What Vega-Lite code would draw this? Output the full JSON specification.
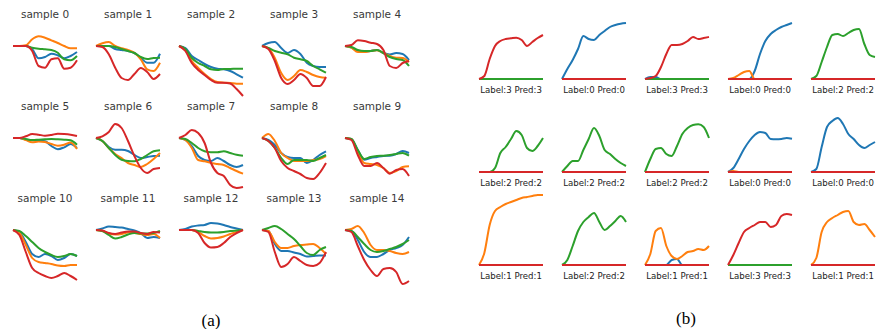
{
"$schema": "https://vega.github.io/schema/vega-lite/v6.json",
"padding": {"left": 9, "top": 9, "right": 0, "bottom": 0},
"background": "white",
"config": {"view": {"stroke": null}, "line": {"strokeWidth": 2, "interpolate": "monotone"}},
"datasets": {
"a": [
{"i":0,"k":0,"x":0,"y":0},{"i":0,"k":0,"x":1,"y":0},{"i":0,"k":0,"x":2,"y":0},{"i":0,"k":0,"x":3,"y":-3.3},{"i":0,"k":0,"x":4,"y":-12.3},{"i":0,"k":0,"x":5,"y":-11},{"i":0,"k":0,"x":6,"y":-7.7},{"i":0,"k":0,"x":7,"y":-9.3},{"i":0,"k":0,"x":8,"y":-12.3},{"i":0,"k":0,"x":9,"y":-10},{"i":0,"k":0,"x":10,"y":-6},
{"i":0,"k":1,"x":0,"y":0},{"i":0,"k":1,"x":1,"y":0},{"i":0,"k":1,"x":2,"y":0.7},{"i":0,"k":1,"x":3,"y":6.7},{"i":0,"k":1,"x":4,"y":9.7},{"i":0,"k":1,"x":5,"y":8.3},{"i":0,"k":1,"x":6,"y":5.7},{"i":0,"k":1,"x":7,"y":3},{"i":0,"k":1,"x":8,"y":0},{"i":0,"k":1,"x":9,"y":-2.3},{"i":0,"k":1,"x":10,"y":-2.3},
{"i":0,"k":2,"x":0,"y":0},{"i":0,"k":2,"x":1,"y":0},{"i":0,"k":2,"x":2,"y":0},{"i":0,"k":2,"x":3,"y":-1.7},{"i":0,"k":2,"x":4,"y":-2.7},{"i":0,"k":2,"x":5,"y":-3.3},{"i":0,"k":2,"x":6,"y":-4},{"i":0,"k":2,"x":7,"y":-6.7},{"i":0,"k":2,"x":8,"y":-13.3},{"i":0,"k":2,"x":9,"y":-14.3},{"i":0,"k":2,"x":10,"y":-10},
{"i":0,"k":3,"x":0,"y":0},{"i":0,"k":3,"x":1,"y":0},{"i":0,"k":3,"x":2,"y":0},{"i":0,"k":3,"x":3,"y":-5},{"i":0,"k":3,"x":4,"y":-20},{"i":0,"k":3,"x":5,"y":-21.7},{"i":0,"k":3,"x":6,"y":-13.3},{"i":0,"k":3,"x":7,"y":-12.3},{"i":0,"k":3,"x":8,"y":-22.7},{"i":0,"k":3,"x":9,"y":-21.7},{"i":0,"k":3,"x":10,"y":-14.3},

{"i":1,"k":0,"x":0,"y":0},{"i":1,"k":0,"x":1,"y":0},{"i":1,"k":0,"x":2,"y":0},{"i":1,"k":0,"x":3,"y":-3},{"i":1,"k":0,"x":4,"y":-4},{"i":1,"k":0,"x":5,"y":-5},{"i":1,"k":0,"x":6,"y":-7},{"i":1,"k":0,"x":7,"y":-12},{"i":1,"k":0,"x":8,"y":-16.7},{"i":1,"k":0,"x":9,"y":-16.7},{"i":1,"k":0,"x":10,"y":-7.7},
{"i":1,"k":1,"x":0,"y":0},{"i":1,"k":1,"x":1,"y":2.7},{"i":1,"k":1,"x":2,"y":4},{"i":1,"k":1,"x":3,"y":0},{"i":1,"k":1,"x":4,"y":-2.3},{"i":1,"k":1,"x":5,"y":-4},{"i":1,"k":1,"x":6,"y":-6.7},{"i":1,"k":1,"x":7,"y":-13.3},{"i":1,"k":1,"x":8,"y":-23.3},{"i":1,"k":1,"x":9,"y":-25},{"i":1,"k":1,"x":10,"y":-16.7},
{"i":1,"k":2,"x":0,"y":0},{"i":1,"k":2,"x":1,"y":0},{"i":1,"k":2,"x":2,"y":0},{"i":1,"k":2,"x":3,"y":-1},{"i":1,"k":2,"x":4,"y":-3},{"i":1,"k":2,"x":5,"y":-5},{"i":1,"k":2,"x":6,"y":-7},{"i":1,"k":2,"x":7,"y":-11},{"i":1,"k":2,"x":8,"y":-13},{"i":1,"k":2,"x":9,"y":-12},{"i":1,"k":2,"x":10,"y":-11.7},
{"i":1,"k":3,"x":0,"y":0},{"i":1,"k":3,"x":1,"y":-1},{"i":1,"k":3,"x":2,"y":-8.3},{"i":1,"k":3,"x":3,"y":-21.7},{"i":1,"k":3,"x":4,"y":-32},{"i":1,"k":3,"x":5,"y":-34},{"i":1,"k":3,"x":6,"y":-28},{"i":1,"k":3,"x":7,"y":-22},{"i":1,"k":3,"x":8,"y":-26},{"i":1,"k":3,"x":9,"y":-33},{"i":1,"k":3,"x":10,"y":-28},

{"i":2,"k":0,"x":0,"y":0},{"i":2,"k":0,"x":1,"y":-2},{"i":2,"k":0,"x":2,"y":-10},{"i":2,"k":0,"x":3,"y":-14},{"i":2,"k":0,"x":4,"y":-18},{"i":2,"k":0,"x":5,"y":-21},{"i":2,"k":0,"x":6,"y":-22.7},{"i":2,"k":0,"x":7,"y":-23.3},{"i":2,"k":0,"x":8,"y":-25},{"i":2,"k":0,"x":9,"y":-28.3},{"i":2,"k":0,"x":10,"y":-31.7},
{"i":2,"k":1,"x":0,"y":0},{"i":2,"k":1,"x":1,"y":-4},{"i":2,"k":1,"x":2,"y":-15},{"i":2,"k":1,"x":3,"y":-22},{"i":2,"k":1,"x":4,"y":-28},{"i":2,"k":1,"x":5,"y":-33},{"i":2,"k":1,"x":6,"y":-36},{"i":2,"k":1,"x":7,"y":-36.7},{"i":2,"k":1,"x":8,"y":-37},{"i":2,"k":1,"x":9,"y":-37.7},{"i":2,"k":1,"x":10,"y":-37.7},
{"i":2,"k":2,"x":0,"y":0},{"i":2,"k":2,"x":1,"y":-3},{"i":2,"k":2,"x":2,"y":-12},{"i":2,"k":2,"x":3,"y":-17},{"i":2,"k":2,"x":4,"y":-20},{"i":2,"k":2,"x":5,"y":-23.3},{"i":2,"k":2,"x":6,"y":-24},{"i":2,"k":2,"x":7,"y":-23},{"i":2,"k":2,"x":8,"y":-23},{"i":2,"k":2,"x":9,"y":-22.7},{"i":2,"k":2,"x":10,"y":-22.7},
{"i":2,"k":3,"x":0,"y":0},{"i":2,"k":3,"x":1,"y":-5},{"i":2,"k":3,"x":2,"y":-17},{"i":2,"k":3,"x":3,"y":-24},{"i":2,"k":3,"x":4,"y":-29},{"i":2,"k":3,"x":5,"y":-34},{"i":2,"k":3,"x":6,"y":-36.7},{"i":2,"k":3,"x":7,"y":-36.7},{"i":2,"k":3,"x":8,"y":-37.5},{"i":2,"k":3,"x":9,"y":-43},{"i":2,"k":3,"x":10,"y":-50},

{"i":3,"k":0,"x":0,"y":0},{"i":3,"k":0,"x":1,"y":3},{"i":3,"k":0,"x":2,"y":4},{"i":3,"k":0,"x":3,"y":-2},{"i":3,"k":0,"x":4,"y":-7},{"i":3,"k":0,"x":5,"y":-4},{"i":3,"k":0,"x":6,"y":-8},{"i":3,"k":0,"x":7,"y":-16.7},{"i":3,"k":0,"x":8,"y":-20},{"i":3,"k":0,"x":9,"y":-21},{"i":3,"k":0,"x":10,"y":-21},
{"i":3,"k":1,"x":0,"y":0},{"i":3,"k":1,"x":1,"y":-2},{"i":3,"k":1,"x":2,"y":-12},{"i":3,"k":1,"x":3,"y":-27},{"i":3,"k":1,"x":4,"y":-34},{"i":3,"k":1,"x":5,"y":-30},{"i":3,"k":1,"x":6,"y":-24},{"i":3,"k":1,"x":7,"y":-26},{"i":3,"k":1,"x":8,"y":-29},{"i":3,"k":1,"x":9,"y":-31},{"i":3,"k":1,"x":10,"y":-31.7},
{"i":3,"k":2,"x":0,"y":0},{"i":3,"k":2,"x":1,"y":-2},{"i":3,"k":2,"x":2,"y":-5},{"i":3,"k":2,"x":3,"y":-6.7},{"i":3,"k":2,"x":4,"y":-8.3},{"i":3,"k":2,"x":5,"y":-11.7},{"i":3,"k":2,"x":6,"y":-13.3},{"i":3,"k":2,"x":7,"y":-15},{"i":3,"k":2,"x":8,"y":-20},{"i":3,"k":2,"x":9,"y":-23.3},{"i":3,"k":2,"x":10,"y":-26.7},
{"i":3,"k":3,"x":0,"y":0},{"i":3,"k":3,"x":1,"y":-3},{"i":3,"k":3,"x":2,"y":-15},{"i":3,"k":3,"x":3,"y":-32},{"i":3,"k":3,"x":4,"y":-38},{"i":3,"k":3,"x":5,"y":-34},{"i":3,"k":3,"x":6,"y":-28},{"i":3,"k":3,"x":7,"y":-32},{"i":3,"k":3,"x":8,"y":-40},{"i":3,"k":3,"x":9,"y":-40},{"i":3,"k":3,"x":10,"y":-31},

{"i":4,"k":0,"x":0,"y":0},{"i":4,"k":0,"x":1,"y":-1.5},{"i":4,"k":0,"x":2,"y":-5},{"i":4,"k":0,"x":3,"y":-5.7},{"i":4,"k":0,"x":4,"y":-5},{"i":4,"k":0,"x":5,"y":-4},{"i":4,"k":0,"x":6,"y":-7},{"i":4,"k":0,"x":7,"y":-8.5},{"i":4,"k":0,"x":8,"y":-7},{"i":4,"k":0,"x":9,"y":-8},{"i":4,"k":0,"x":10,"y":-14},
{"i":4,"k":1,"x":0,"y":0},{"i":4,"k":1,"x":1,"y":-1.7},{"i":4,"k":1,"x":2,"y":-6},{"i":4,"k":1,"x":3,"y":-6},{"i":4,"k":1,"x":4,"y":-5},{"i":4,"k":1,"x":5,"y":-4.3},{"i":4,"k":1,"x":6,"y":-7},{"i":4,"k":1,"x":7,"y":-10},{"i":4,"k":1,"x":8,"y":-11.7},{"i":4,"k":1,"x":9,"y":-12},{"i":4,"k":1,"x":10,"y":-16},
{"i":4,"k":2,"x":0,"y":0},{"i":4,"k":2,"x":1,"y":-1},{"i":4,"k":2,"x":2,"y":-4},{"i":4,"k":2,"x":3,"y":-5},{"i":4,"k":2,"x":4,"y":-5},{"i":4,"k":2,"x":5,"y":-4},{"i":4,"k":2,"x":6,"y":-7},{"i":4,"k":2,"x":7,"y":-11},{"i":4,"k":2,"x":8,"y":-13},{"i":4,"k":2,"x":9,"y":-14},{"i":4,"k":2,"x":10,"y":-20},
{"i":4,"k":3,"x":0,"y":0},{"i":4,"k":3,"x":1,"y":1},{"i":4,"k":3,"x":2,"y":5.7},{"i":4,"k":3,"x":3,"y":5},{"i":4,"k":3,"x":4,"y":3.3},{"i":4,"k":3,"x":5,"y":2},{"i":4,"k":3,"x":6,"y":-4},{"i":4,"k":3,"x":7,"y":-20},{"i":4,"k":3,"x":8,"y":-22},{"i":4,"k":3,"x":9,"y":-17},{"i":4,"k":3,"x":10,"y":-15},

{"i":5,"k":0,"x":0,"y":0},{"i":5,"k":0,"x":1,"y":0},{"i":5,"k":0,"x":2,"y":-1.5},{"i":5,"k":0,"x":3,"y":-2.3},{"i":5,"k":0,"x":4,"y":-2.7},{"i":5,"k":0,"x":5,"y":-3.3},{"i":5,"k":0,"x":6,"y":-8},{"i":5,"k":0,"x":7,"y":-11.3},{"i":5,"k":0,"x":8,"y":-9.3},{"i":5,"k":0,"x":9,"y":-6},{"i":5,"k":0,"x":10,"y":-10},
{"i":5,"k":1,"x":0,"y":0},{"i":5,"k":1,"x":1,"y":0},{"i":5,"k":1,"x":2,"y":-2},{"i":5,"k":1,"x":3,"y":-4.3},{"i":5,"k":1,"x":4,"y":-3.5},{"i":5,"k":1,"x":5,"y":-4},{"i":5,"k":1,"x":6,"y":-6},{"i":5,"k":1,"x":7,"y":-7.7},{"i":5,"k":1,"x":8,"y":-6.7},{"i":5,"k":1,"x":9,"y":-4.5},{"i":5,"k":1,"x":10,"y":-11},
{"i":5,"k":2,"x":0,"y":0},{"i":5,"k":2,"x":1,"y":0},{"i":5,"k":2,"x":2,"y":-1},{"i":5,"k":2,"x":3,"y":-2},{"i":5,"k":2,"x":4,"y":-1.7},{"i":5,"k":2,"x":5,"y":-1.3},{"i":5,"k":2,"x":6,"y":-1},{"i":5,"k":2,"x":7,"y":-1.3},{"i":5,"k":2,"x":8,"y":-1.7},{"i":5,"k":2,"x":9,"y":-2.3},{"i":5,"k":2,"x":10,"y":-6.7},
{"i":5,"k":3,"x":0,"y":0},{"i":5,"k":3,"x":1,"y":0},{"i":5,"k":3,"x":2,"y":1.7},{"i":5,"k":3,"x":3,"y":4},{"i":5,"k":3,"x":4,"y":3.3},{"i":5,"k":3,"x":5,"y":2.3},{"i":5,"k":3,"x":6,"y":3},{"i":5,"k":3,"x":7,"y":4.3},{"i":5,"k":3,"x":8,"y":4},{"i":5,"k":3,"x":9,"y":3.3},{"i":5,"k":3,"x":10,"y":2},

{"i":6,"k":0,"x":0,"y":0},{"i":6,"k":0,"x":1,"y":-3},{"i":6,"k":0,"x":2,"y":-9},{"i":6,"k":0,"x":3,"y":-11.7},{"i":6,"k":0,"x":4,"y":-11.7},{"i":6,"k":0,"x":5,"y":-13},{"i":6,"k":0,"x":6,"y":-17},{"i":6,"k":0,"x":7,"y":-20},{"i":6,"k":0,"x":8,"y":-19},{"i":6,"k":0,"x":9,"y":-18},{"i":6,"k":0,"x":10,"y":-17.7},
{"i":6,"k":1,"x":0,"y":0},{"i":6,"k":1,"x":1,"y":-3},{"i":6,"k":1,"x":2,"y":-10},{"i":6,"k":1,"x":3,"y":-16},{"i":6,"k":1,"x":4,"y":-20},{"i":6,"k":1,"x":5,"y":-25},{"i":6,"k":1,"x":6,"y":-27},{"i":6,"k":1,"x":7,"y":-29},{"i":6,"k":1,"x":8,"y":-26},{"i":6,"k":1,"x":9,"y":-21},{"i":6,"k":1,"x":10,"y":-15},
{"i":6,"k":2,"x":0,"y":0},{"i":6,"k":2,"x":1,"y":-3},{"i":6,"k":2,"x":2,"y":-10},{"i":6,"k":2,"x":3,"y":-17},{"i":6,"k":2,"x":4,"y":-21.7},{"i":6,"k":2,"x":5,"y":-23},{"i":6,"k":2,"x":6,"y":-23.3},{"i":6,"k":2,"x":7,"y":-21},{"i":6,"k":2,"x":8,"y":-17},{"i":6,"k":2,"x":9,"y":-13.3},{"i":6,"k":2,"x":10,"y":-12.3},
{"i":6,"k":3,"x":0,"y":0},{"i":6,"k":3,"x":1,"y":1.7},{"i":6,"k":3,"x":2,"y":6},{"i":6,"k":3,"x":3,"y":14},{"i":6,"k":3,"x":4,"y":10},{"i":6,"k":3,"x":5,"y":-3},{"i":6,"k":3,"x":6,"y":-18},{"i":6,"k":3,"x":7,"y":-30},{"i":6,"k":3,"x":8,"y":-35},{"i":6,"k":3,"x":9,"y":-31},{"i":6,"k":3,"x":10,"y":-30},

{"i":7,"k":0,"x":0,"y":0},{"i":7,"k":0,"x":1,"y":-2},{"i":7,"k":0,"x":2,"y":-8},{"i":7,"k":0,"x":3,"y":-18},{"i":7,"k":0,"x":4,"y":-22},{"i":7,"k":0,"x":5,"y":-23},{"i":7,"k":0,"x":6,"y":-20},{"i":7,"k":0,"x":7,"y":-23},{"i":7,"k":0,"x":8,"y":-27},{"i":7,"k":0,"x":9,"y":-29},{"i":7,"k":0,"x":10,"y":-27},
{"i":7,"k":1,"x":0,"y":0},{"i":7,"k":1,"x":1,"y":-2},{"i":7,"k":1,"x":2,"y":-10},{"i":7,"k":1,"x":3,"y":-22},{"i":7,"k":1,"x":4,"y":-23.3},{"i":7,"k":1,"x":5,"y":-25},{"i":7,"k":1,"x":6,"y":-26},{"i":7,"k":1,"x":7,"y":-27},{"i":7,"k":1,"x":8,"y":-30},{"i":7,"k":1,"x":9,"y":-33},{"i":7,"k":1,"x":10,"y":-35.7},
{"i":7,"k":2,"x":0,"y":0},{"i":7,"k":2,"x":1,"y":-1},{"i":7,"k":2,"x":2,"y":-5},{"i":7,"k":2,"x":3,"y":-10},{"i":7,"k":2,"x":4,"y":-13.3},{"i":7,"k":2,"x":5,"y":-14.3},{"i":7,"k":2,"x":6,"y":-14.3},{"i":7,"k":2,"x":7,"y":-13.3},{"i":7,"k":2,"x":8,"y":-15},{"i":7,"k":2,"x":9,"y":-16.7},{"i":7,"k":2,"x":10,"y":-17.7},
{"i":7,"k":3,"x":0,"y":0},{"i":7,"k":3,"x":1,"y":3},{"i":7,"k":3,"x":2,"y":8},{"i":7,"k":3,"x":3,"y":5},{"i":7,"k":3,"x":4,"y":-5},{"i":7,"k":3,"x":5,"y":-25},{"i":7,"k":3,"x":6,"y":-35},{"i":7,"k":3,"x":7,"y":-38},{"i":7,"k":3,"x":8,"y":-47},{"i":7,"k":3,"x":9,"y":-50},{"i":7,"k":3,"x":10,"y":-49},

{"i":8,"k":0,"x":0,"y":0},{"i":8,"k":0,"x":1,"y":-2},{"i":8,"k":0,"x":2,"y":-7},{"i":8,"k":0,"x":3,"y":-15},{"i":8,"k":0,"x":4,"y":-19},{"i":8,"k":0,"x":5,"y":-20},{"i":8,"k":0,"x":6,"y":-20},{"i":8,"k":0,"x":7,"y":-25},{"i":8,"k":0,"x":8,"y":-22},{"i":8,"k":0,"x":9,"y":-17},{"i":8,"k":0,"x":10,"y":-13.3},
{"i":8,"k":1,"x":0,"y":0},{"i":8,"k":1,"x":1,"y":4},{"i":8,"k":1,"x":2,"y":-3},{"i":8,"k":1,"x":3,"y":-15},{"i":8,"k":1,"x":4,"y":-20},{"i":8,"k":1,"x":5,"y":-23},{"i":8,"k":1,"x":6,"y":-23},{"i":8,"k":1,"x":7,"y":-23},{"i":8,"k":1,"x":8,"y":-22},{"i":8,"k":1,"x":9,"y":-21},{"i":8,"k":1,"x":10,"y":-18},
{"i":8,"k":2,"x":0,"y":0},{"i":8,"k":2,"x":1,"y":-3},{"i":8,"k":2,"x":2,"y":-10},{"i":8,"k":2,"x":3,"y":-20},{"i":8,"k":2,"x":4,"y":-26},{"i":8,"k":2,"x":5,"y":-22},{"i":8,"k":2,"x":6,"y":-22},{"i":8,"k":2,"x":7,"y":-22},{"i":8,"k":2,"x":8,"y":-23},{"i":8,"k":2,"x":9,"y":-20},{"i":8,"k":2,"x":10,"y":-17},
{"i":8,"k":3,"x":0,"y":0},{"i":8,"k":3,"x":1,"y":-3},{"i":8,"k":3,"x":2,"y":-10},{"i":8,"k":3,"x":3,"y":-23},{"i":8,"k":3,"x":4,"y":-30},{"i":8,"k":3,"x":5,"y":-33},{"i":8,"k":3,"x":6,"y":-36},{"i":8,"k":3,"x":7,"y":-40},{"i":8,"k":3,"x":8,"y":-41},{"i":8,"k":3,"x":9,"y":-35},{"i":8,"k":3,"x":10,"y":-25},

{"i":9,"k":0,"x":0,"y":0},{"i":9,"k":0,"x":1,"y":-1},{"i":9,"k":0,"x":2,"y":-12},{"i":9,"k":0,"x":3,"y":-21.7},{"i":9,"k":0,"x":4,"y":-20},{"i":9,"k":0,"x":5,"y":-19},{"i":9,"k":0,"x":6,"y":-18},{"i":9,"k":0,"x":7,"y":-17.7},{"i":9,"k":0,"x":8,"y":-16},{"i":9,"k":0,"x":9,"y":-13},{"i":9,"k":0,"x":10,"y":-15},
{"i":9,"k":1,"x":0,"y":0},{"i":9,"k":1,"x":1,"y":-1},{"i":9,"k":1,"x":2,"y":-14},{"i":9,"k":1,"x":3,"y":-25},{"i":9,"k":1,"x":4,"y":-26},{"i":9,"k":1,"x":5,"y":-27},{"i":9,"k":1,"x":6,"y":-30},{"i":9,"k":1,"x":7,"y":-35},{"i":9,"k":1,"x":8,"y":-33},{"i":9,"k":1,"x":9,"y":-29},{"i":9,"k":1,"x":10,"y":-28.3},
{"i":9,"k":2,"x":0,"y":0},{"i":9,"k":2,"x":1,"y":-1},{"i":9,"k":2,"x":2,"y":-12},{"i":9,"k":2,"x":3,"y":-21},{"i":9,"k":2,"x":4,"y":-19},{"i":9,"k":2,"x":5,"y":-18},{"i":9,"k":2,"x":6,"y":-17.7},{"i":9,"k":2,"x":7,"y":-17},{"i":9,"k":2,"x":8,"y":-16},{"i":9,"k":2,"x":9,"y":-15},{"i":9,"k":2,"x":10,"y":-17.7},
{"i":9,"k":3,"x":0,"y":0},{"i":9,"k":3,"x":1,"y":-2},{"i":9,"k":3,"x":2,"y":-17},{"i":9,"k":3,"x":3,"y":-28},{"i":9,"k":3,"x":4,"y":-28},{"i":9,"k":3,"x":5,"y":-25},{"i":9,"k":3,"x":6,"y":-30},{"i":9,"k":3,"x":7,"y":-35.7},{"i":9,"k":3,"x":8,"y":-32},{"i":9,"k":3,"x":9,"y":-31},{"i":9,"k":3,"x":10,"y":-38},

{"i":10,"k":0,"x":0,"y":0},{"i":10,"k":0,"x":1,"y":-2},{"i":10,"k":0,"x":2,"y":-12},{"i":10,"k":0,"x":3,"y":-24},{"i":10,"k":0,"x":4,"y":-27},{"i":10,"k":0,"x":5,"y":-24},{"i":10,"k":0,"x":6,"y":-26},{"i":10,"k":0,"x":7,"y":-30},{"i":10,"k":0,"x":8,"y":-28},{"i":10,"k":0,"x":9,"y":-24},{"i":10,"k":0,"x":10,"y":-26},
{"i":10,"k":1,"x":0,"y":0},{"i":10,"k":1,"x":1,"y":-3},{"i":10,"k":1,"x":2,"y":-15},{"i":10,"k":1,"x":3,"y":-28},{"i":10,"k":1,"x":4,"y":-32},{"i":10,"k":1,"x":5,"y":-33},{"i":10,"k":1,"x":6,"y":-34},{"i":10,"k":1,"x":7,"y":-35.5},{"i":10,"k":1,"x":8,"y":-36},{"i":10,"k":1,"x":9,"y":-35},{"i":10,"k":1,"x":10,"y":-35},
{"i":10,"k":2,"x":0,"y":0},{"i":10,"k":2,"x":1,"y":-1},{"i":10,"k":2,"x":2,"y":-6},{"i":10,"k":2,"x":3,"y":-12},{"i":10,"k":2,"x":4,"y":-18},{"i":10,"k":2,"x":5,"y":-22},{"i":10,"k":2,"x":6,"y":-25},{"i":10,"k":2,"x":7,"y":-27},{"i":10,"k":2,"x":8,"y":-26},{"i":10,"k":2,"x":9,"y":-24},{"i":10,"k":2,"x":10,"y":-26},
{"i":10,"k":3,"x":0,"y":0},{"i":10,"k":3,"x":1,"y":-5},{"i":10,"k":3,"x":2,"y":-22},{"i":10,"k":3,"x":3,"y":-38},{"i":10,"k":3,"x":4,"y":-43},{"i":10,"k":3,"x":5,"y":-46},{"i":10,"k":3,"x":6,"y":-48},{"i":10,"k":3,"x":7,"y":-46},{"i":10,"k":3,"x":8,"y":-43},{"i":10,"k":3,"x":9,"y":-46},{"i":10,"k":3,"x":10,"y":-50},

{"i":11,"k":0,"x":0,"y":0},{"i":11,"k":0,"x":1,"y":1.5},{"i":11,"k":0,"x":2,"y":3.5},{"i":11,"k":0,"x":3,"y":3},{"i":11,"k":0,"x":4,"y":2.5},{"i":11,"k":0,"x":5,"y":1},{"i":11,"k":0,"x":6,"y":-0.5},{"i":11,"k":0,"x":7,"y":-3},{"i":11,"k":0,"x":8,"y":-8},{"i":11,"k":0,"x":9,"y":-7},{"i":11,"k":0,"x":10,"y":-8},
{"i":11,"k":1,"x":0,"y":0},{"i":11,"k":1,"x":1,"y":-1},{"i":11,"k":1,"x":2,"y":-3.5},{"i":11,"k":1,"x":3,"y":-4.5},{"i":11,"k":1,"x":4,"y":-4},{"i":11,"k":1,"x":5,"y":-2.5},{"i":11,"k":1,"x":6,"y":-3},{"i":11,"k":1,"x":7,"y":-4},{"i":11,"k":1,"x":8,"y":-5},{"i":11,"k":1,"x":9,"y":-4},{"i":11,"k":1,"x":10,"y":-8},
{"i":11,"k":2,"x":0,"y":0},{"i":11,"k":2,"x":1,"y":-1},{"i":11,"k":2,"x":2,"y":-5},{"i":11,"k":2,"x":3,"y":-8.5},{"i":11,"k":2,"x":4,"y":-7},{"i":11,"k":2,"x":5,"y":-4.5},{"i":11,"k":2,"x":6,"y":-3},{"i":11,"k":2,"x":7,"y":-3.5},{"i":11,"k":2,"x":8,"y":-3.5},{"i":11,"k":2,"x":9,"y":-3},{"i":11,"k":2,"x":10,"y":-1},
{"i":11,"k":3,"x":0,"y":0},{"i":11,"k":3,"x":1,"y":-0.5},{"i":11,"k":3,"x":2,"y":-3},{"i":11,"k":3,"x":3,"y":-4},{"i":11,"k":3,"x":4,"y":-2.5},{"i":11,"k":3,"x":5,"y":-1.5},{"i":11,"k":3,"x":6,"y":-1.5},{"i":11,"k":3,"x":7,"y":-3},{"i":11,"k":3,"x":8,"y":-4},{"i":11,"k":3,"x":9,"y":-2},{"i":11,"k":3,"x":10,"y":-2.5},

{"i":12,"k":0,"x":0,"y":0},{"i":12,"k":0,"x":1,"y":1},{"i":12,"k":0,"x":2,"y":3.5},{"i":12,"k":0,"x":3,"y":4.5},{"i":12,"k":0,"x":4,"y":5},{"i":12,"k":0,"x":5,"y":7},{"i":12,"k":0,"x":6,"y":6.5},{"i":12,"k":0,"x":7,"y":5},{"i":12,"k":0,"x":8,"y":3},{"i":12,"k":0,"x":9,"y":1.5},{"i":12,"k":0,"x":10,"y":0},
{"i":12,"k":1,"x":0,"y":0},{"i":12,"k":1,"x":1,"y":0},{"i":12,"k":1,"x":2,"y":0},{"i":12,"k":1,"x":3,"y":-2},{"i":12,"k":1,"x":4,"y":-6},{"i":12,"k":1,"x":5,"y":-8.5},{"i":12,"k":1,"x":6,"y":-8},{"i":12,"k":1,"x":7,"y":-6.5},{"i":12,"k":1,"x":8,"y":-4},{"i":12,"k":1,"x":9,"y":-2},{"i":12,"k":1,"x":10,"y":0},
{"i":12,"k":2,"x":0,"y":0},{"i":12,"k":2,"x":1,"y":0},{"i":12,"k":2,"x":2,"y":0},{"i":12,"k":2,"x":3,"y":-1},{"i":12,"k":2,"x":4,"y":-2},{"i":12,"k":2,"x":5,"y":-2.5},{"i":12,"k":2,"x":6,"y":-2.5},{"i":12,"k":2,"x":7,"y":-2},{"i":12,"k":2,"x":8,"y":-1},{"i":12,"k":2,"x":9,"y":-0.5},{"i":12,"k":2,"x":10,"y":0},
{"i":12,"k":3,"x":0,"y":0},{"i":12,"k":3,"x":1,"y":0},{"i":12,"k":3,"x":2,"y":0},{"i":12,"k":3,"x":3,"y":-3},{"i":12,"k":3,"x":4,"y":-13},{"i":12,"k":3,"x":5,"y":-17.5},{"i":12,"k":3,"x":6,"y":-17},{"i":12,"k":3,"x":7,"y":-13},{"i":12,"k":3,"x":8,"y":-7},{"i":12,"k":3,"x":9,"y":-3},{"i":12,"k":3,"x":10,"y":0},

{"i":13,"k":0,"x":0,"y":0},{"i":13,"k":0,"x":1,"y":-1},{"i":13,"k":0,"x":2,"y":-14},{"i":13,"k":0,"x":3,"y":-21},{"i":13,"k":0,"x":4,"y":-21},{"i":13,"k":0,"x":5,"y":-22.5},{"i":13,"k":0,"x":6,"y":-24},{"i":13,"k":0,"x":7,"y":-26.5},{"i":13,"k":0,"x":8,"y":-26},{"i":13,"k":0,"x":9,"y":-25.5},{"i":13,"k":0,"x":10,"y":-25.5},
{"i":13,"k":1,"x":0,"y":0},{"i":13,"k":1,"x":1,"y":-1},{"i":13,"k":1,"x":2,"y":-12},{"i":13,"k":1,"x":3,"y":-18},{"i":13,"k":1,"x":4,"y":-18},{"i":13,"k":1,"x":5,"y":-16},{"i":13,"k":1,"x":6,"y":-15},{"i":13,"k":1,"x":7,"y":-14.5},{"i":13,"k":1,"x":8,"y":-14},{"i":13,"k":1,"x":9,"y":-18},{"i":13,"k":1,"x":10,"y":-24},
{"i":13,"k":2,"x":0,"y":0},{"i":13,"k":2,"x":1,"y":2},{"i":13,"k":2,"x":2,"y":4},{"i":13,"k":2,"x":3,"y":1},{"i":13,"k":2,"x":4,"y":-4},{"i":13,"k":2,"x":5,"y":-9},{"i":13,"k":2,"x":6,"y":-16},{"i":13,"k":2,"x":7,"y":-23},{"i":13,"k":2,"x":8,"y":-25},{"i":13,"k":2,"x":9,"y":-20},{"i":13,"k":2,"x":10,"y":-17},
{"i":13,"k":3,"x":0,"y":0},{"i":13,"k":3,"x":1,"y":-2},{"i":13,"k":3,"x":2,"y":-22},{"i":13,"k":3,"x":3,"y":-37},{"i":13,"k":3,"x":4,"y":-34},{"i":13,"k":3,"x":5,"y":-27},{"i":13,"k":3,"x":6,"y":-31},{"i":13,"k":3,"x":7,"y":-35},{"i":13,"k":3,"x":8,"y":-36},{"i":13,"k":3,"x":9,"y":-33},{"i":13,"k":3,"x":10,"y":-22},

{"i":14,"k":0,"x":0,"y":0},{"i":14,"k":0,"x":1,"y":-1},{"i":14,"k":0,"x":2,"y":-10},{"i":14,"k":0,"x":3,"y":-22},{"i":14,"k":0,"x":4,"y":-27},{"i":14,"k":0,"x":5,"y":-27},{"i":14,"k":0,"x":6,"y":-24},{"i":14,"k":0,"x":7,"y":-20},{"i":14,"k":0,"x":8,"y":-18},{"i":14,"k":0,"x":9,"y":-15},{"i":14,"k":0,"x":10,"y":-7},
{"i":14,"k":1,"x":0,"y":0},{"i":14,"k":1,"x":1,"y":1},{"i":14,"k":1,"x":2,"y":4},{"i":14,"k":1,"x":3,"y":-3},{"i":14,"k":1,"x":4,"y":-15},{"i":14,"k":1,"x":5,"y":-20},{"i":14,"k":1,"x":6,"y":-20},{"i":14,"k":1,"x":7,"y":-21},{"i":14,"k":1,"x":8,"y":-23},{"i":14,"k":1,"x":9,"y":-24},{"i":14,"k":1,"x":10,"y":-22},
{"i":14,"k":2,"x":0,"y":0},{"i":14,"k":2,"x":1,"y":-1},{"i":14,"k":2,"x":2,"y":-7},{"i":14,"k":2,"x":3,"y":-14},{"i":14,"k":2,"x":4,"y":-20},{"i":14,"k":2,"x":5,"y":-22},{"i":14,"k":2,"x":6,"y":-21},{"i":14,"k":2,"x":7,"y":-19},{"i":14,"k":2,"x":8,"y":-17},{"i":14,"k":2,"x":9,"y":-14},{"i":14,"k":2,"x":10,"y":-10},
{"i":14,"k":3,"x":0,"y":0},{"i":14,"k":3,"x":1,"y":-2},{"i":14,"k":3,"x":2,"y":-16},{"i":14,"k":3,"x":3,"y":-30},{"i":14,"k":3,"x":4,"y":-40},{"i":14,"k":3,"x":5,"y":-46},{"i":14,"k":3,"x":6,"y":-39},{"i":14,"k":3,"x":7,"y":-38},{"i":14,"k":3,"x":8,"y":-42},{"i":14,"k":3,"x":9,"y":-54},{"i":14,"k":3,"x":10,"y":-51}
],
"b": [
{"i":0,"k":0,"x":0,"y":0},{"i":0,"k":0,"x":12,"y":0},{"i":0,"k":1,"x":0,"y":0},{"i":0,"k":1,"x":12,"y":0},{"i":0,"k":2,"x":0,"y":0},{"i":0,"k":2,"x":12,"y":0},
{"i":0,"k":3,"x":0,"y":0},{"i":0,"k":3,"x":1,"y":3},{"i":0,"k":3,"x":2,"y":20},{"i":0,"k":3,"x":3,"y":33},{"i":0,"k":3,"x":4,"y":38},{"i":0,"k":3,"x":5,"y":40},{"i":0,"k":3,"x":6,"y":40.7},{"i":0,"k":3,"x":7,"y":41.3},{"i":0,"k":3,"x":8,"y":39},{"i":0,"k":3,"x":9,"y":33},{"i":0,"k":3,"x":10,"y":37},{"i":0,"k":3,"x":11,"y":41},{"i":0,"k":3,"x":12,"y":44},

{"i":1,"k":0,"x":0,"y":0},{"i":1,"k":0,"x":1,"y":10},{"i":1,"k":0,"x":2,"y":19},{"i":1,"k":0,"x":3,"y":30},{"i":1,"k":0,"x":4,"y":43},{"i":1,"k":0,"x":5,"y":40},{"i":1,"k":0,"x":6,"y":39},{"i":1,"k":0,"x":7,"y":44},{"i":1,"k":0,"x":8,"y":48},{"i":1,"k":0,"x":9,"y":52},{"i":1,"k":0,"x":10,"y":54},{"i":1,"k":0,"x":11,"y":55.3},{"i":1,"k":0,"x":12,"y":56},
{"i":1,"k":1,"x":0,"y":0},{"i":1,"k":1,"x":12,"y":0},{"i":1,"k":2,"x":0,"y":0},{"i":1,"k":2,"x":12,"y":0},{"i":1,"k":3,"x":0,"y":0},{"i":1,"k":3,"x":12,"y":0},

{"i":2,"k":0,"x":0,"y":0},{"i":2,"k":0,"x":1,"y":2},{"i":2,"k":0,"x":2,"y":2},{"i":2,"k":0,"x":3,"y":0},{"i":2,"k":0,"x":12,"y":0},
{"i":2,"k":1,"x":0,"y":0},{"i":2,"k":1,"x":12,"y":0},{"i":2,"k":2,"x":0,"y":0},{"i":2,"k":2,"x":12,"y":0},
{"i":2,"k":3,"x":0,"y":0},{"i":2,"k":3,"x":1,"y":1},{"i":2,"k":3,"x":2,"y":3},{"i":2,"k":3,"x":3,"y":12},{"i":2,"k":3,"x":4,"y":25},{"i":2,"k":3,"x":5,"y":34},{"i":2,"k":3,"x":6,"y":34},{"i":2,"k":3,"x":7,"y":35},{"i":2,"k":3,"x":8,"y":38},{"i":2,"k":3,"x":9,"y":42},{"i":2,"k":3,"x":10,"y":40},{"i":2,"k":3,"x":11,"y":41},{"i":2,"k":3,"x":12,"y":42},

{"i":3,"k":0,"x":0,"y":0},{"i":3,"k":0,"x":4,"y":0},{"i":3,"k":0,"x":5,"y":8},{"i":3,"k":0,"x":6,"y":25},{"i":3,"k":0,"x":7,"y":38},{"i":3,"k":0,"x":8,"y":45},{"i":3,"k":0,"x":9,"y":49},{"i":3,"k":0,"x":10,"y":52},{"i":3,"k":0,"x":11,"y":54},{"i":3,"k":0,"x":12,"y":56},
{"i":3,"k":1,"x":0,"y":0},{"i":3,"k":1,"x":1,"y":1},{"i":3,"k":1,"x":2,"y":4},{"i":3,"k":1,"x":3,"y":7},{"i":3,"k":1,"x":4,"y":8},{"i":3,"k":1,"x":5,"y":0},{"i":3,"k":1,"x":12,"y":0},
{"i":3,"k":2,"x":0,"y":0},{"i":3,"k":2,"x":12,"y":0},{"i":3,"k":3,"x":0,"y":0},{"i":3,"k":3,"x":12,"y":0},

{"i":4,"k":0,"x":0,"y":0},{"i":4,"k":0,"x":12,"y":0},{"i":4,"k":1,"x":0,"y":0},{"i":4,"k":1,"x":12,"y":0},
{"i":4,"k":2,"x":0,"y":0},{"i":4,"k":2,"x":1,"y":3},{"i":4,"k":2,"x":2,"y":17},{"i":4,"k":2,"x":3,"y":32},{"i":4,"k":2,"x":4,"y":44},{"i":4,"k":2,"x":5,"y":45},{"i":4,"k":2,"x":6,"y":43},{"i":4,"k":2,"x":7,"y":46},{"i":4,"k":2,"x":8,"y":49},{"i":4,"k":2,"x":9,"y":50},{"i":4,"k":2,"x":10,"y":35},{"i":4,"k":2,"x":11,"y":24},{"i":4,"k":2,"x":12,"y":22},
{"i":4,"k":3,"x":0,"y":0},{"i":4,"k":3,"x":12,"y":0},

{"i":5,"k":0,"x":0,"y":0},{"i":5,"k":0,"x":12,"y":0},{"i":5,"k":1,"x":0,"y":0},{"i":5,"k":1,"x":12,"y":0},
{"i":5,"k":2,"x":0,"y":0},{"i":5,"k":2,"x":1,"y":0},{"i":5,"k":2,"x":2,"y":0},{"i":5,"k":2,"x":3,"y":4},{"i":5,"k":2,"x":4,"y":19},{"i":5,"k":2,"x":5,"y":25},{"i":5,"k":2,"x":6,"y":33},{"i":5,"k":2,"x":7,"y":41},{"i":5,"k":2,"x":8,"y":37},{"i":5,"k":2,"x":9,"y":24},{"i":5,"k":2,"x":10,"y":21},{"i":5,"k":2,"x":11,"y":26},{"i":5,"k":2,"x":12,"y":34},
{"i":5,"k":3,"x":0,"y":0},{"i":5,"k":3,"x":12,"y":0},

{"i":6,"k":0,"x":0,"y":0},{"i":6,"k":0,"x":12,"y":0},{"i":6,"k":1,"x":0,"y":0},{"i":6,"k":1,"x":12,"y":0},
{"i":6,"k":2,"x":0,"y":0},{"i":6,"k":2,"x":1,"y":6},{"i":6,"k":2,"x":2,"y":11},{"i":6,"k":2,"x":3,"y":11},{"i":6,"k":2,"x":4,"y":22},{"i":6,"k":2,"x":5,"y":33},{"i":6,"k":2,"x":6,"y":44},{"i":6,"k":2,"x":7,"y":36},{"i":6,"k":2,"x":8,"y":22},{"i":6,"k":2,"x":9,"y":18},{"i":6,"k":2,"x":10,"y":13},{"i":6,"k":2,"x":11,"y":9},{"i":6,"k":2,"x":12,"y":6},
{"i":6,"k":3,"x":0,"y":0},{"i":6,"k":3,"x":12,"y":0},

{"i":7,"k":0,"x":0,"y":0},{"i":7,"k":0,"x":12,"y":0},{"i":7,"k":1,"x":0,"y":0},{"i":7,"k":1,"x":12,"y":0},
{"i":7,"k":2,"x":0,"y":0},{"i":7,"k":2,"x":1,"y":13},{"i":7,"k":2,"x":2,"y":23},{"i":7,"k":2,"x":3,"y":24},{"i":7,"k":2,"x":4,"y":18},{"i":7,"k":2,"x":5,"y":16},{"i":7,"k":2,"x":6,"y":26},{"i":7,"k":2,"x":7,"y":38},{"i":7,"k":2,"x":8,"y":44},{"i":7,"k":2,"x":9,"y":47},{"i":7,"k":2,"x":10,"y":47.7},{"i":7,"k":2,"x":11,"y":45},{"i":7,"k":2,"x":12,"y":34},
{"i":7,"k":3,"x":0,"y":0},{"i":7,"k":3,"x":12,"y":0},

{"i":8,"k":0,"x":0,"y":0},{"i":8,"k":0,"x":1,"y":4},{"i":8,"k":0,"x":2,"y":13},{"i":8,"k":0,"x":3,"y":23},{"i":8,"k":0,"x":4,"y":31},{"i":8,"k":0,"x":5,"y":37},{"i":8,"k":0,"x":6,"y":40},{"i":8,"k":0,"x":7,"y":39},{"i":8,"k":0,"x":8,"y":33},{"i":8,"k":0,"x":9,"y":32.7},{"i":8,"k":0,"x":10,"y":33},{"i":8,"k":0,"x":11,"y":34},{"i":8,"k":0,"x":12,"y":33.3},
{"i":8,"k":1,"x":0,"y":0},{"i":8,"k":1,"x":1,"y":1},{"i":8,"k":1,"x":2,"y":0},{"i":8,"k":1,"x":12,"y":0},
{"i":8,"k":2,"x":0,"y":0},{"i":8,"k":2,"x":12,"y":0},{"i":8,"k":3,"x":0,"y":0},{"i":8,"k":3,"x":12,"y":0},

{"i":9,"k":0,"x":0,"y":0},{"i":9,"k":0,"x":1,"y":3},{"i":9,"k":0,"x":2,"y":25},{"i":9,"k":0,"x":3,"y":45},{"i":9,"k":0,"x":4,"y":51},{"i":9,"k":0,"x":5,"y":54},{"i":9,"k":0,"x":6,"y":48},{"i":9,"k":0,"x":7,"y":38},{"i":9,"k":0,"x":8,"y":33},{"i":9,"k":0,"x":9,"y":27},{"i":9,"k":0,"x":10,"y":24},{"i":9,"k":0,"x":11,"y":27},{"i":9,"k":0,"x":12,"y":30},
{"i":9,"k":1,"x":0,"y":0},{"i":9,"k":1,"x":12,"y":0},{"i":9,"k":2,"x":0,"y":0},{"i":9,"k":2,"x":12,"y":0},{"i":9,"k":3,"x":0,"y":0},{"i":9,"k":3,"x":12,"y":0},

{"i":10,"k":0,"x":0,"y":0},{"i":10,"k":0,"x":12,"y":0},
{"i":10,"k":1,"x":0,"y":0},{"i":10,"k":1,"x":1,"y":12},{"i":10,"k":1,"x":2,"y":40},{"i":10,"k":1,"x":3,"y":54},{"i":10,"k":1,"x":4,"y":58},{"i":10,"k":1,"x":5,"y":61},{"i":10,"k":1,"x":6,"y":63},{"i":10,"k":1,"x":7,"y":65},{"i":10,"k":1,"x":8,"y":67},{"i":10,"k":1,"x":9,"y":68},{"i":10,"k":1,"x":10,"y":69},{"i":10,"k":1,"x":11,"y":70},{"i":10,"k":1,"x":12,"y":70},
{"i":10,"k":2,"x":0,"y":0},{"i":10,"k":2,"x":12,"y":0},{"i":10,"k":3,"x":0,"y":0},{"i":10,"k":3,"x":12,"y":0},

{"i":11,"k":0,"x":0,"y":0},{"i":11,"k":0,"x":12,"y":0},{"i":11,"k":1,"x":0,"y":0},{"i":11,"k":1,"x":12,"y":0},
{"i":11,"k":2,"x":0,"y":0},{"i":11,"k":2,"x":1,"y":5},{"i":11,"k":2,"x":2,"y":19},{"i":11,"k":2,"x":3,"y":34},{"i":11,"k":2,"x":4,"y":43},{"i":11,"k":2,"x":5,"y":48},{"i":11,"k":2,"x":6,"y":52},{"i":11,"k":2,"x":7,"y":43},{"i":11,"k":2,"x":8,"y":35},{"i":11,"k":2,"x":9,"y":39},{"i":11,"k":2,"x":10,"y":44},{"i":11,"k":2,"x":11,"y":49},{"i":11,"k":2,"x":12,"y":43},
{"i":11,"k":3,"x":0,"y":0},{"i":11,"k":3,"x":12,"y":0},

{"i":12,"k":0,"x":0,"y":0},{"i":12,"k":0,"x":4,"y":0},{"i":12,"k":0,"x":5,"y":5},{"i":12,"k":0,"x":6,"y":6},{"i":12,"k":0,"x":7,"y":0},{"i":12,"k":0,"x":12,"y":0},
{"i":12,"k":1,"x":0,"y":0},{"i":12,"k":1,"x":1,"y":11},{"i":12,"k":1,"x":2,"y":34},{"i":12,"k":1,"x":3,"y":37},{"i":12,"k":1,"x":4,"y":19},{"i":12,"k":1,"x":5,"y":9},{"i":12,"k":1,"x":6,"y":6},{"i":12,"k":1,"x":7,"y":9},{"i":12,"k":1,"x":8,"y":13},{"i":12,"k":1,"x":9,"y":14},{"i":12,"k":1,"x":10,"y":16},{"i":12,"k":1,"x":11,"y":15},{"i":12,"k":1,"x":12,"y":19},
{"i":12,"k":2,"x":0,"y":0},{"i":12,"k":2,"x":12,"y":0},{"i":12,"k":3,"x":0,"y":0},{"i":12,"k":3,"x":12,"y":0},

{"i":13,"k":0,"x":0,"y":0},{"i":13,"k":0,"x":12,"y":0},{"i":13,"k":1,"x":0,"y":0},{"i":13,"k":1,"x":12,"y":0},{"i":13,"k":2,"x":0,"y":0},{"i":13,"k":2,"x":12,"y":0},
{"i":13,"k":3,"x":0,"y":0},{"i":13,"k":3,"x":1,"y":10},{"i":13,"k":3,"x":2,"y":22},{"i":13,"k":3,"x":3,"y":33},{"i":13,"k":3,"x":4,"y":37},{"i":13,"k":3,"x":5,"y":40},{"i":13,"k":3,"x":6,"y":43},{"i":13,"k":3,"x":7,"y":43},{"i":13,"k":3,"x":8,"y":38},{"i":13,"k":3,"x":9,"y":40},{"i":13,"k":3,"x":10,"y":49},{"i":13,"k":3,"x":11,"y":51},{"i":13,"k":3,"x":12,"y":50},

{"i":14,"k":0,"x":0,"y":0},{"i":14,"k":0,"x":12,"y":0},
{"i":14,"k":1,"x":0,"y":0},{"i":14,"k":1,"x":1,"y":7},{"i":14,"k":1,"x":2,"y":33},{"i":14,"k":1,"x":3,"y":43},{"i":14,"k":1,"x":4,"y":47},{"i":14,"k":1,"x":5,"y":50},{"i":14,"k":1,"x":6,"y":53},{"i":14,"k":1,"x":7,"y":54},{"i":14,"k":1,"x":8,"y":43},{"i":14,"k":1,"x":9,"y":40},{"i":14,"k":1,"x":10,"y":41},{"i":14,"k":1,"x":11,"y":35},{"i":14,"k":1,"x":12,"y":28},
{"i":14,"k":2,"x":0,"y":0},{"i":14,"k":2,"x":12,"y":0},{"i":14,"k":3,"x":0,"y":0},{"i":14,"k":3,"x":12,"y":0}
]
},
"spacing": 62,
"hconcat": [
{
"data": {"name": "a"},
"title": {"text": "(a)", "orient": "bottom", "anchor": "middle", "font": "Liberation Serif", "fontSize": 17, "fontWeight": "normal", "color": "#000000", "offset": 25},
"columns": 5,
"bounds": "flush",
"spacing": {"column": 19, "row": 18},
"facet": {"field": "i", "type": "ordinal", "header": {"title": null, "labelExpr": "'sample ' + datum.value", "labelFont": "DejaVu Sans", "labelFontSize": 10.5, "labelColor": "#3a3a3a", "labelPadding": 8}},
"spec": {
"width": 64, "height": 74,
"mark": {"type": "line", "strokeWidth": 2, "interpolate": "monotone"},
"encoding": {
"x": {"field": "x", "type": "quantitative", "axis": null, "scale": {"domain": [0, 10], "nice": false}},
"y": {"field": "y", "type": "quantitative", "axis": null, "scale": {"domain": [-56, 18], "nice": false, "zero": false}},
"color": {"field": "k", "type": "nominal", "legend": null, "scale": {"domain": [0, 1, 2, 3], "range": ["#1f77b4", "#ff7f0e", "#2ca02c", "#d62728"]}}
}
}
},
{
"data": {"name": "b"},
"title": {"text": "(b)", "orient": "bottom", "anchor": "middle", "font": "Liberation Serif", "fontSize": 17, "fontWeight": "normal", "color": "#000000", "offset": 30, "dx": 9},
"columns": 5,
"bounds": "flush",
"spacing": {"column": 19, "row": 42},
"facet": {"field": "i", "type": "ordinal", "header": {"title": null, "labelOrient": "bottom", "labelExpr": "['Label:3 Pred:3','Label:0 Pred:0','Label:3 Pred:3','Label:0 Pred:0','Label:2 Pred:2','Label:2 Pred:2','Label:2 Pred:2','Label:2 Pred:2','Label:0 Pred:0','Label:0 Pred:0','Label:1 Pred:1','Label:2 Pred:2','Label:1 Pred:1','Label:3 Pred:3','Label:1 Pred:1'][datum.value]", "labelFont": "DejaVu Sans", "labelFontSize": 8.6, "labelColor": "#222222", "labelPadding": 3}},
"spec": {
"width": 64, "height": 51,
"mark": {"type": "line", "strokeWidth": 2, "interpolate": "monotone"},
"encoding": {
"x": {"field": "x", "type": "quantitative", "axis": null, "scale": {"domain": [0, 12], "nice": false}},
"y": {"field": "y", "type": "quantitative", "axis": null, "scale": {"domain": [0, 51], "nice": false, "zero": false}},
"color": {"field": "k", "type": "nominal", "legend": null, "scale": {"domain": [0, 1, 2, 3], "range": ["#1f77b4", "#ff7f0e", "#2ca02c", "#d62728"]}}
}
}
}
],
"resolve": {"scale": {"color": "independent", "x": "independent", "y": "independent"}}
}
